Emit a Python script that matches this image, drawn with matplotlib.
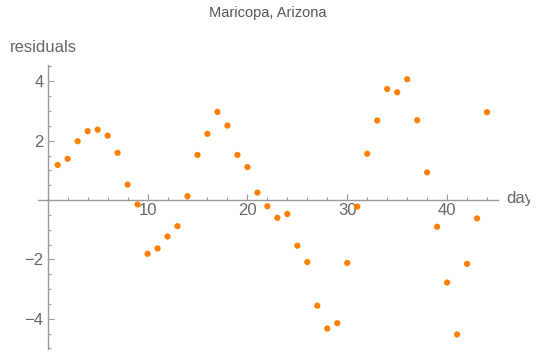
import matplotlib
matplotlib.use('Agg')
import matplotlib.pyplot as plt
from matplotlib.ticker import MultipleLocator
from matplotlib.transforms import Bbox, TransformedBbox

plt.rcParams['font.family'] = ['Liberation Sans', 'DejaVu Sans']

# residuals per day
days = list(range(1, 45))
residuals = [1.18, 1.39, 1.98, 2.32, 2.37, 2.17, 1.59, 0.52, -0.15, -1.81,
             -1.63, -1.23, -0.88, 0.13, 1.52, 2.23, 2.97, 2.51, 1.52, 1.11,
             0.25, -0.21, -0.60, -0.47, -1.54, -2.09, -3.56, -4.33, -4.15, -2.12,
             -0.22, 1.56, 2.68, 3.74, 3.63, 4.07, 2.69, 0.93, -0.90, -2.78,
             -4.53, -2.15, -0.62, 2.96]

title = "Maricopa, Arizona"
xlabel = "day"
ylabel = "residuals"

axis_col = '#999999'
text_col = '#666666'

fig = plt.figure(figsize=(5.45, 3.54), dpi=100)
ax = fig.add_axes([0.0692, 0.0141, 0.8446, 0.8023])

ax.scatter(days, residuals, s=20, color='#ff7f00', edgecolors='none', zorder=3, clip_on=False)

ax.set_xlim(-1, 45.1)
ax.set_ylim(-5.02, 4.55)

for side in ['top', 'right']:
    ax.spines[side].set_visible(False)
ax.spines['left'].set_position(('data', 0))
ax.spines['bottom'].set_position(('data', 0))
for side in ['left', 'bottom']:
    ax.spines[side].set_color(axis_col)
    ax.spines[side].set_linewidth(1.0)

ax.xaxis.set_major_locator(MultipleLocator(10))
ax.xaxis.set_minor_locator(MultipleLocator(2))
ax.yaxis.set_major_locator(MultipleLocator(2))
ax.yaxis.set_minor_locator(MultipleLocator(0.5))
ax.set_xticks([10, 20, 30, 40])
ax.set_yticks([-4, -2, 2, 4])
ax.set_yticklabels(['\u22124', '\u22122', '2', '4'])

ax.tick_params(which='both', direction='in', colors=axis_col, labelcolor=text_col,
               labelsize=12, width=0.8)
ax.tick_params(which='major', length=4)
ax.tick_params(which='minor', length=2.5)
ax.tick_params(axis='x', pad=2)
ax.tick_params(axis='y', pad=3)

fig.text(268 / 545, 1 - 13 / 354, title, ha='center', va='center',
         fontsize=10.5, color='#555555')
fig.text(10 / 545, 1 - 48 / 354, ylabel, ha='left', va='center',
         fontsize=12, color=text_col)
t = fig.text(506 / 545, 1 - 199 / 354, xlabel, ha='left', va='center',
             fontsize=12, color=text_col)
t.set_clip_on(True)
t.set_clip_box(TransformedBbox(Bbox([[0, 0], [530 / 545, 1]]), fig.transFigure))

fig.savefig('out.png', dpi=100)
